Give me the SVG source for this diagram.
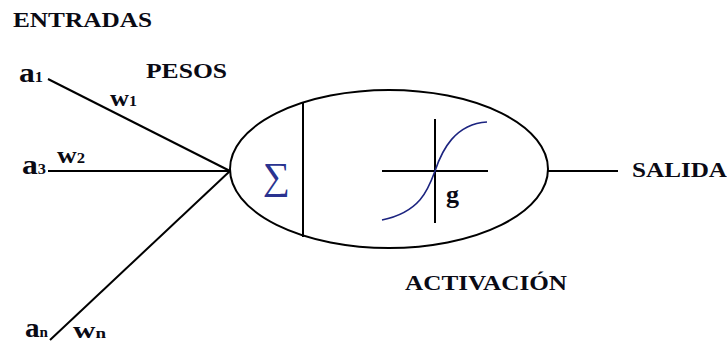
<svg xmlns="http://www.w3.org/2000/svg" width="727" height="343" viewBox="0 0 727 343">
<style>
.t{font-family:"Liberation Serif","Times New Roman",serif;font-weight:bold;fill:#0a0a14}
.a{font-size:27px}
.w{font-size:23px}
.s{font-size:14px}
.ln{stroke:#000;stroke-width:2;fill:none}
.bl{stroke:#1c2480;stroke-width:1.6;fill:none}
</style>
<rect width="727" height="343" fill="#fff"/>
<text class="t" x="13" y="27" font-size="22" textLength="139" lengthAdjust="spacingAndGlyphs">ENTRADAS</text>
<text class="t" x="146" y="78" font-size="22" textLength="81" lengthAdjust="spacingAndGlyphs">PESOS</text>
<g id="connectors">
<line class="ln" x1="48" y1="79" x2="230" y2="171"/>
<line class="ln" x1="48" y1="171" x2="230" y2="171"/>
<line class="ln" x1="50" y1="340" x2="230" y2="171"/>
<line class="ln" x1="548" y1="171" x2="618" y2="171"/>
</g>
<g id="in1">
<text class="t a" x="19" y="82" textLength="24" lengthAdjust="spacingAndGlyphs">a<tspan class="s">1</tspan></text>
<text class="t w" x="110" y="106" textLength="27" lengthAdjust="spacingAndGlyphs">w<tspan class="s">1</tspan></text>
</g>
<g id="in2">
<text class="t a" x="22" y="174" textLength="24" lengthAdjust="spacingAndGlyphs">a<tspan class="s">3</tspan></text>
<text class="t w" x="57" y="163" textLength="28" lengthAdjust="spacingAndGlyphs">w<tspan class="s">2</tspan></text>
</g>
<g id="inn">
<text class="t a" x="25" y="337" textLength="23" lengthAdjust="spacingAndGlyphs">a<tspan class="s">n</tspan></text>
<text class="t w" x="73" y="338" textLength="33" lengthAdjust="spacingAndGlyphs">w<tspan class="s">n</tspan></text>
</g>
<g id="neuron">
<ellipse class="ln" cx="389" cy="169" rx="159" ry="79"/>
<line class="ln" x1="303" y1="102" x2="303" y2="237"/>
<text x="263" y="189" font-family="Liberation Serif, serif" font-size="38" fill="#2a3390">∑</text>
<line class="ln" x1="382" y1="171" x2="488" y2="171"/>
<line class="ln" x1="435" y1="119" x2="435" y2="223"/>
<path class="bl" d="M382,220 C420,212 428,190 435,171 C442,150 455,124 487,122"/>
<text class="t" x="446" y="203" font-size="26">g</text>
</g>
<g id="out">
<text class="t" x="632" y="177" font-size="21" textLength="95" lengthAdjust="spacingAndGlyphs">SALIDA</text>
</g>
<text class="t" x="405" y="290" font-size="22" textLength="162" lengthAdjust="spacingAndGlyphs">ACTIVACIÓN</text>
</svg>
